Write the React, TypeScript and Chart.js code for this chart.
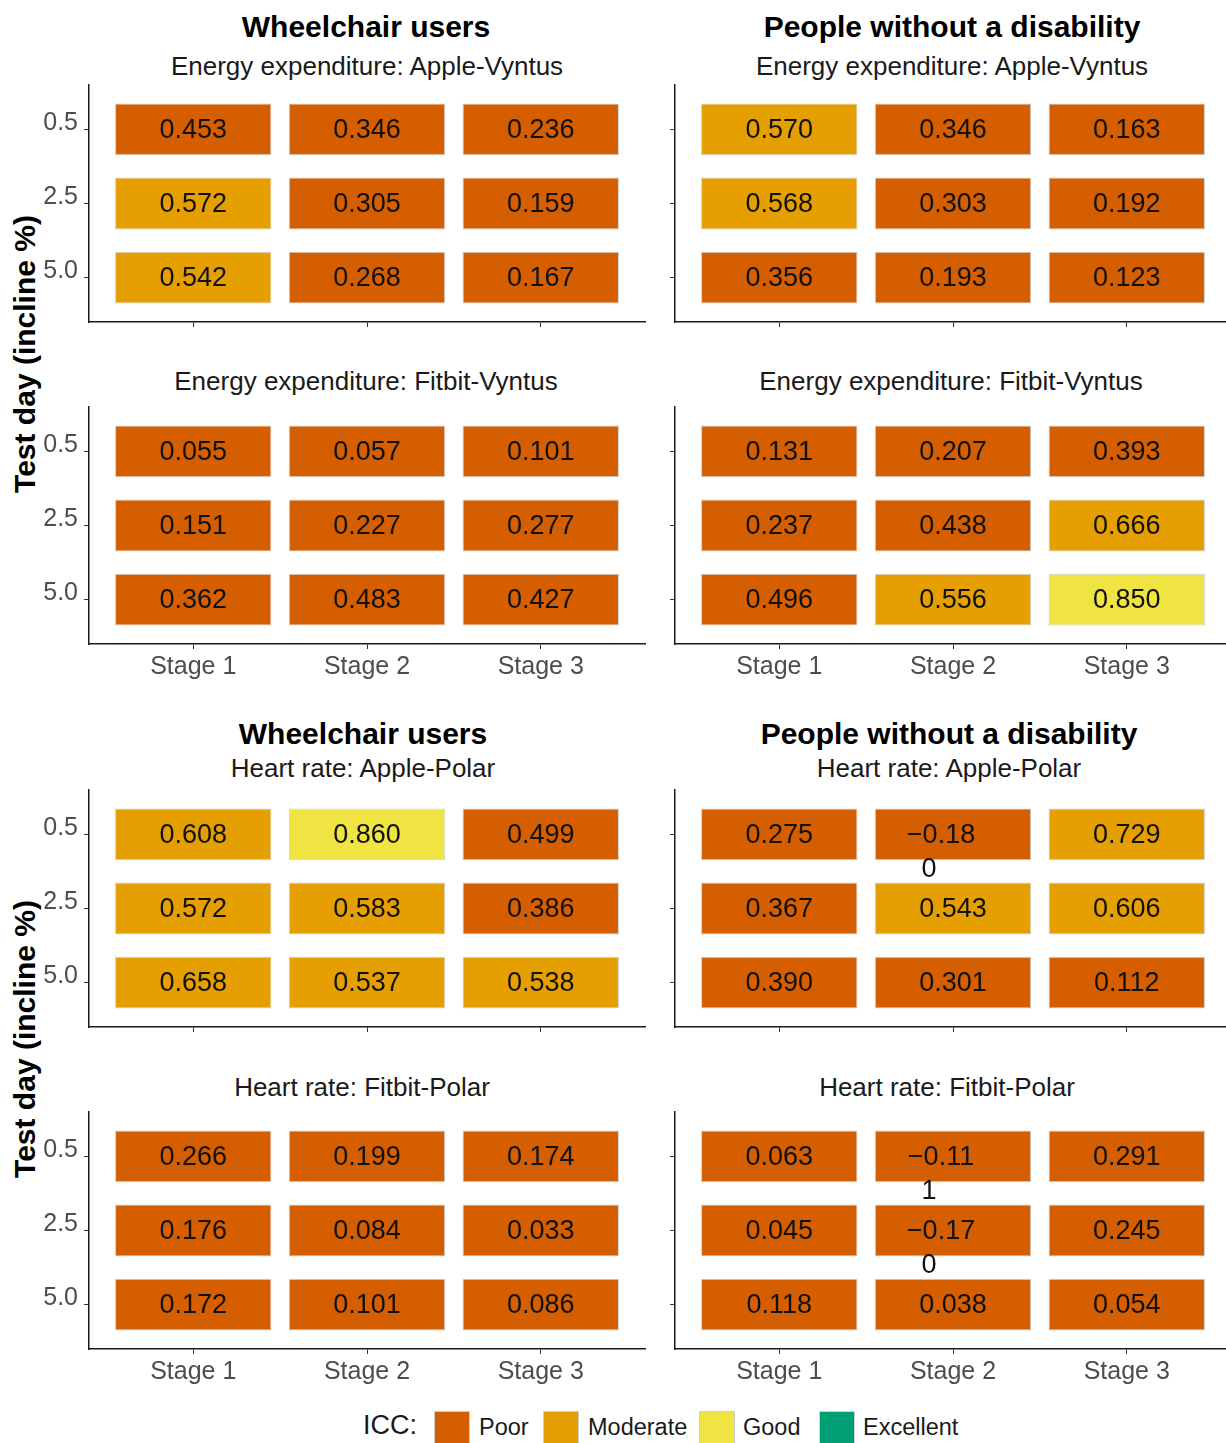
import React, { useEffect, useRef } from "react";
import { Chart, registerables } from "chart.js";

Chart.register(...registerables);

// ---------- data ----------
const STAGES = ["Stage 1", "Stage 2", "Stage 3"];
const INCLINES = ["0.5", "2.5", "5.0"];
const ICC_LEVELS = ["Poor", "Moderate", "Good", "Excellent"];
const ICC_COLORS = ["#D55E00", "#E69F00", "#F0E442", "#009E73"];
const ICC_THRESHOLDS = [0.5, 0.75, 0.9];

// rows: incline 0.5, 2.5, 5.0 ; columns: Stage 1, 2, 3
const wuEnergyApple = [
  [0.453, 0.346, 0.236],
  [0.572, 0.305, 0.159],
  [0.542, 0.268, 0.167],
];
const pwdEnergyApple = [
  [0.57, 0.346, 0.163],
  [0.568, 0.303, 0.192],
  [0.356, 0.193, 0.123],
];
const wuEnergyFitbit = [
  [0.055, 0.057, 0.101],
  [0.151, 0.227, 0.277],
  [0.362, 0.483, 0.427],
];
const pwdEnergyFitbit = [
  [0.131, 0.207, 0.393],
  [0.237, 0.438, 0.666],
  [0.496, 0.556, 0.85],
];
const wuHeartApple = [
  [0.608, 0.86, 0.499],
  [0.572, 0.583, 0.386],
  [0.658, 0.537, 0.538],
];
const pwdHeartApple = [
  [0.275, -0.18, 0.729],
  [0.367, 0.543, 0.606],
  [0.39, 0.301, 0.112],
];
const wuHeartFitbit = [
  [0.266, 0.199, 0.174],
  [0.176, 0.084, 0.033],
  [0.172, 0.101, 0.086],
];
const pwdHeartFitbit = [
  [0.063, -0.111, 0.291],
  [0.045, -0.17, 0.245],
  [0.118, 0.038, 0.054],
];

// ---------- style ----------
const FONT = '"Liberation Sans", Arial, Helvetica, sans-serif';
const TILE_W = 0.9;
const TILE_H = 0.7;
const PLOT_W = 556;
const PLOT_H = 237;
const AXIS_L = 70;
const AXIS_B = 50;
const PAD_T = 10;
const PAD_R = 10;

function iccIndex(v: number) {
  let i = 0;
  while (i < ICC_THRESHOLDS.length && v >= ICC_THRESHOLDS[i]) i++;
  return i;
}
function fmt(v: number) {
  const s = v.toFixed(3);
  return s.startsWith("-") ? "\u2212" + s.slice(1) : s;
}

const cellLabels = {
  id: "cellLabels",
  afterDatasetsDraw(chart: any) {
    const ctx = chart.ctx;
    const meta = chart.getDatasetMeta(0);
    const raw = chart.data.datasets[0].data;
    ctx.save();
    ctx.font = `27px ${FONT}`;
    ctx.fillStyle = "#111111";
    ctx.textAlign = "center";
    ctx.textBaseline = "middle";
    meta.data.forEach((bar: any, i: number) => {
      const label = fmt(raw[i].v);
      const cx = bar.x;
      const cy = (bar.y + bar.base) / 2 + 1;
      if (label.length > 5) {
        ctx.fillText(label.slice(0, 5), cx - 12, cy);
        ctx.fillText(label.slice(5), cx - 24, cy + 34);
      } else {
        ctx.fillText(label, cx, cy);
      }
    });
    ctx.restore();
  },
};

function Panel({ values, left, top, showX, showY }: any) {
  const ref = useRef<HTMLCanvasElement>(null);
  useEffect(() => {
    const data: any[] = [];
    values.forEach((row: number[], r: number) =>
      row.forEach((v: number, c: number) => {
        data.push({ x: c + 1, y: [r + 1 - TILE_H / 2, r + 1 + TILE_H / 2], v });
      })
    );
    const colors = data.map((d) => ICC_COLORS[iccIndex(d.v)]);
    const chart = new Chart(ref.current as HTMLCanvasElement, {
      type: "bar",
      data: {
        datasets: [
          {
            data,
            backgroundColor: colors,
            borderColor: "#cfcfcf",
            borderWidth: 1,
            borderSkipped: false,
            categoryPercentage: 1,
            barPercentage: TILE_W,
          } as any,
        ],
      },
      plugins: [cellLabels],
      options: {
        animation: false,
        responsive: false,
        maintainAspectRatio: false,
        layout: { padding: { top: PAD_T, right: PAD_R, left: 0, bottom: 0 } },
        plugins: { legend: { display: false }, tooltip: { enabled: false } },
        scales: {
          x: {
            type: "linear",
            min: 0.4,
            max: 3.6,
            offset: false,
            afterBuildTicks: (s: any) => {
              s.ticks = STAGES.map((_, i) => ({ value: i + 1 }));
            },
            afterFit: (s: any) => {
              s.height = AXIS_B;
              s.paddingLeft = 0;
              s.paddingRight = 0;
              s.paddingTop = 0;
              s.paddingBottom = 0;
            },
            grid: {
              offset: false,
              drawOnChartArea: false,
              drawTicks: true,
              tickLength: 5,
              tickColor: "#333333",
              lineWidth: 1,
            },
            border: { display: true, color: "#1a1a1a", width: 1.5 },
            ticks: {
              display: showX,
              callback: (v: any) => STAGES[Math.round(v) - 1],
              color: "#4d4d4d",
              font: { family: FONT, size: 25 },
              padding: 3,
              maxRotation: 0,
              autoSkip: false,
            },
          } as any,
          y: {
            type: "linear",
            min: 0.4,
            max: 3.6,
            reverse: true,
            afterBuildTicks: (s: any) => {
              s.ticks = INCLINES.map((_, i) => ({ value: i + 1 }));
            },
            afterFit: (s: any) => {
              s.width = AXIS_L;
              s.paddingLeft = 0;
              s.paddingRight = 0;
              s.paddingTop = 0;
              s.paddingBottom = 0;
            },
            grid: {
              drawOnChartArea: false,
              drawTicks: true,
              tickLength: 5,
              tickColor: "#333333",
              lineWidth: 1,
            },
            border: { display: true, color: "#1a1a1a", width: 1.5 },
            ticks: {
              display: showY,
              callback: (v: any) => INCLINES[Math.round(v) - 1],
              color: "#4d4d4d",
              font: { family: FONT, size: 25 },
              padding: 6,
              labelOffset: -6,
              autoSkip: false,
            },
          } as any,
        },
      },
    });
    return () => chart.destroy();
  }, [values, showX, showY]);
  const w = AXIS_L + PLOT_W + PAD_R;
  const h = PAD_T + PLOT_H + AXIS_B;
  return (
    <canvas
      ref={ref}
      width={w}
      height={h}
      style={{
        position: "absolute",
        left: left - AXIS_L,
        top: top - PAD_T,
        width: w,
        height: h,
      }}
    />
  );
}

function Txt({ x, y, size, bold, color, children, rotate }: any) {
  return (
    <div
      style={{
        position: "absolute",
        left: x,
        top: y,
        transform: `translate(-50%, -50%)${rotate ? " rotate(-90deg)" : ""}`,
        fontFamily: FONT,
        fontSize: size,
        fontWeight: bold ? 700 : 400,
        color: color || "#1a1a1a",
        lineHeight: 1,
        whiteSpace: "nowrap",
      }}
    >
      {children}
    </div>
  );
}

const LEFT_X = 89;
const RIGHT_X = 675;
const TOPS = [85, 407, 790, 1112];

export default function App() {
  const legendBoxes = [434, 543, 699, 819];
  const legendText = [479, 588, 743, 863];
  return (
    <div
      style={{
        position: "absolute",
        left: 0,
        top: 0,
        width: 1226,
        height: 1443,
        overflow: "hidden",
        background: "#ffffff",
      }}
    >
      {/* group 1 */}
      <Txt x={366} y={27} size={30} bold color="#000">Wheelchair users</Txt>
      <Txt x={952} y={27} size={30} bold color="#000">People without a disability</Txt>
      <Txt x={367} y={66} size={26}>Energy expenditure: Apple-Vyntus</Txt>
      <Txt x={952} y={66} size={26}>Energy expenditure: Apple-Vyntus</Txt>
      <Txt x={366} y={381} size={26}>Energy expenditure: Fitbit-Vyntus</Txt>
      <Txt x={951} y={381} size={26}>Energy expenditure: Fitbit-Vyntus</Txt>
      <Txt x={25} y={354} size={30} bold color="#000" rotate>Test day (incline %)</Txt>

      <Panel values={wuEnergyApple} left={LEFT_X} top={TOPS[0]} showX={false} showY={true} />
      <Panel values={pwdEnergyApple} left={RIGHT_X} top={TOPS[0]} showX={false} showY={false} />
      <Panel values={wuEnergyFitbit} left={LEFT_X} top={TOPS[1]} showX={true} showY={true} />
      <Panel values={pwdEnergyFitbit} left={RIGHT_X} top={TOPS[1]} showX={true} showY={false} />

      {/* group 2 */}
      <Txt x={363} y={734} size={30} bold color="#000">Wheelchair users</Txt>
      <Txt x={949} y={734} size={30} bold color="#000">People without a disability</Txt>
      <Txt x={363} y={768} size={26}>Heart rate: Apple-Polar</Txt>
      <Txt x={949} y={768} size={26}>Heart rate: Apple-Polar</Txt>
      <Txt x={362} y={1087} size={26}>Heart rate: Fitbit-Polar</Txt>
      <Txt x={947} y={1087} size={26}>Heart rate: Fitbit-Polar</Txt>
      <Txt x={25} y={1039} size={30} bold color="#000" rotate>Test day (incline %)</Txt>

      <Panel values={wuHeartApple} left={LEFT_X} top={TOPS[2]} showX={false} showY={true} />
      <Panel values={pwdHeartApple} left={RIGHT_X} top={TOPS[2]} showX={false} showY={false} />
      <Panel values={wuHeartFitbit} left={LEFT_X} top={TOPS[3]} showX={true} showY={true} />
      <Panel values={pwdHeartFitbit} left={RIGHT_X} top={TOPS[3]} showX={true} showY={false} />

      {/* legend */}
      <div
        style={{
          position: "absolute",
          left: 363,
          top: 1412,
          fontFamily: FONT,
          fontSize: 27,
          lineHeight: 1,
          color: "#1a1a1a",
          whiteSpace: "nowrap",
        }}
      >
        ICC:
      </div>
      {ICC_LEVELS.map((lvl, i) => (
        <React.Fragment key={lvl}>
          <div
            style={{
              position: "absolute",
              left: legendBoxes[i],
              top: 1411,
              width: 36,
              height: 36,
              boxSizing: "border-box",
              background: ICC_COLORS[i],
              border: "1px solid #cfcfcf",
            }}
          />
          <div
            style={{
              position: "absolute",
              left: legendText[i],
              top: 1416,
              fontFamily: FONT,
              fontSize: 23.5,
              lineHeight: 1,
              color: "#1a1a1a",
              whiteSpace: "nowrap",
            }}
          >
            {lvl}
          </div>
        </React.Fragment>
      ))}
    </div>
  );
}
